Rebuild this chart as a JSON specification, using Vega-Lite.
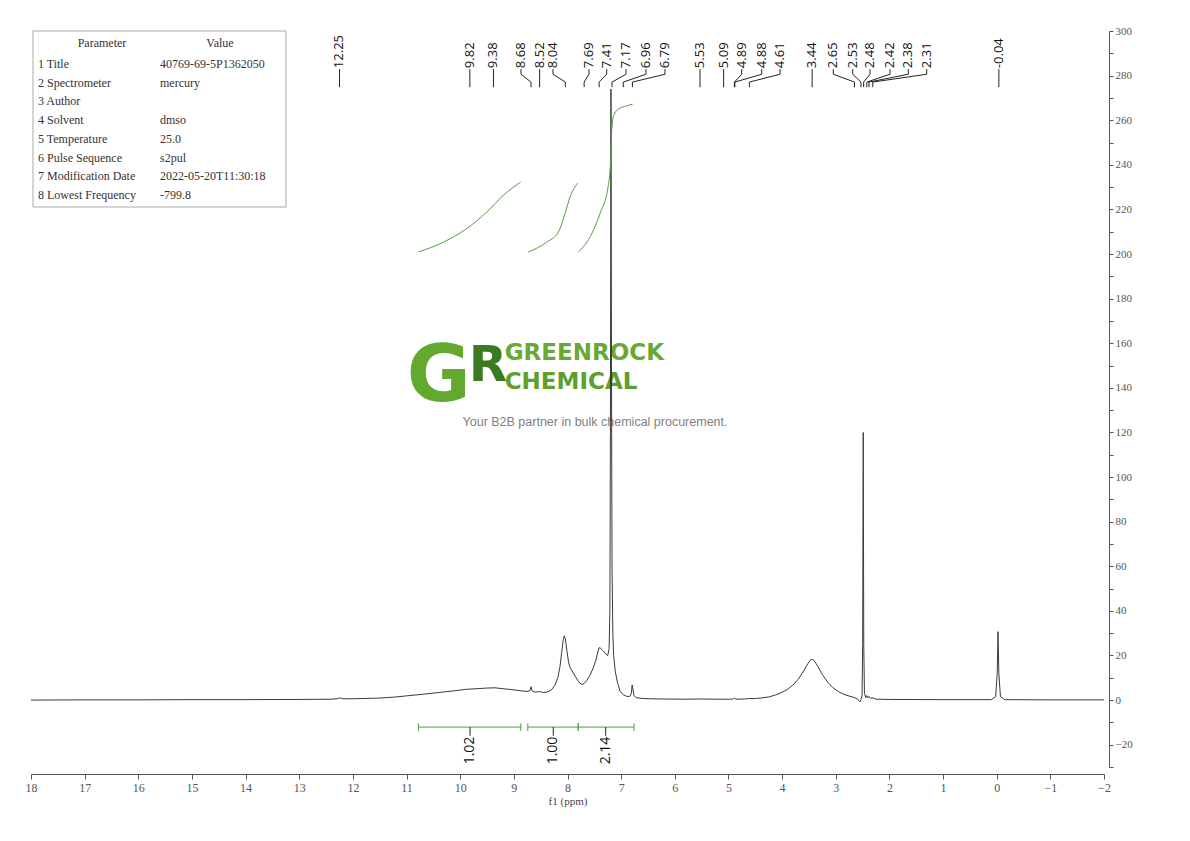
{
  "$schema": "https://vega.github.io/schema/vega-lite/v6.json",
  "width": 1073,
  "height": 736,
  "autosize": {"type": "none"},
  "padding": {"left": 31, "top": 31, "right": 86, "bottom": 74},
  "background": "white",
  "config": {"view": {"stroke": null}, "axis": {"grid": false}},
  "datasets": {
    "spectrum": [
      {"ppm": 18, "intensity": 0.0}, {"ppm": 17, "intensity": 0.1}, {"ppm": 16, "intensity": 0.1},
      {"ppm": 15, "intensity": 0.2}, {"ppm": 14, "intensity": 0.2}, {"ppm": 13, "intensity": 0.3},
      {"ppm": 12.4, "intensity": 0.4}, {"ppm": 12.3, "intensity": 0.6}, {"ppm": 12.25, "intensity": 1.0},
      {"ppm": 12.2, "intensity": 0.6}, {"ppm": 12.0, "intensity": 0.6}, {"ppm": 11.5, "intensity": 0.9},
      {"ppm": 11.2, "intensity": 1.4}, {"ppm": 11.0, "intensity": 1.9}, {"ppm": 10.7, "intensity": 2.6},
      {"ppm": 10.4, "intensity": 3.4}, {"ppm": 10.1, "intensity": 4.2}, {"ppm": 9.9, "intensity": 4.8},
      {"ppm": 9.7, "intensity": 5.1}, {"ppm": 9.5, "intensity": 5.4}, {"ppm": 9.35, "intensity": 5.5},
      {"ppm": 9.2, "intensity": 5.1}, {"ppm": 9.0, "intensity": 4.6}, {"ppm": 8.85, "intensity": 4.1},
      {"ppm": 8.74, "intensity": 3.9}, {"ppm": 8.7, "intensity": 4.3}, {"ppm": 8.68, "intensity": 6.0},
      {"ppm": 8.66, "intensity": 4.1}, {"ppm": 8.6, "intensity": 3.6}, {"ppm": 8.52, "intensity": 3.8},
      {"ppm": 8.45, "intensity": 3.4}, {"ppm": 8.38, "intensity": 3.6}, {"ppm": 8.3, "intensity": 4.6},
      {"ppm": 8.24, "intensity": 6.5}, {"ppm": 8.18, "intensity": 10}, {"ppm": 8.14, "intensity": 15},
      {"ppm": 8.11, "intensity": 21}, {"ppm": 8.08, "intensity": 27}, {"ppm": 8.06, "intensity": 28.8},
      {"ppm": 8.04, "intensity": 27.5}, {"ppm": 8.01, "intensity": 22}, {"ppm": 7.98, "intensity": 17},
      {"ppm": 7.95, "intensity": 14.5}, {"ppm": 7.9, "intensity": 12.5}, {"ppm": 7.84, "intensity": 10},
      {"ppm": 7.78, "intensity": 7.8}, {"ppm": 7.73, "intensity": 7.0}, {"ppm": 7.69, "intensity": 7.4},
      {"ppm": 7.64, "intensity": 8.8}, {"ppm": 7.58, "intensity": 11.2}, {"ppm": 7.52, "intensity": 14.5},
      {"ppm": 7.47, "intensity": 18}, {"ppm": 7.43, "intensity": 22}, {"ppm": 7.41, "intensity": 23.5},
      {"ppm": 7.38, "intensity": 23.2}, {"ppm": 7.33, "intensity": 22}, {"ppm": 7.28, "intensity": 20.5},
      {"ppm": 7.25, "intensity": 20}, {"ppm": 7.225, "intensity": 23}, {"ppm": 7.21, "intensity": 40},
      {"ppm": 7.2, "intensity": 120}, {"ppm": 7.19, "intensity": 274}, {"ppm": 7.18, "intensity": 150},
      {"ppm": 7.17, "intensity": 60}, {"ppm": 7.155, "intensity": 30}, {"ppm": 7.14, "intensity": 20},
      {"ppm": 7.11, "intensity": 13}, {"ppm": 7.07, "intensity": 8}, {"ppm": 7.02, "intensity": 4},
      {"ppm": 6.96, "intensity": 2.4}, {"ppm": 6.9, "intensity": 1.7}, {"ppm": 6.84, "intensity": 1.6},
      {"ppm": 6.81, "intensity": 3}, {"ppm": 6.795, "intensity": 6.8}, {"ppm": 6.78, "intensity": 5},
      {"ppm": 6.76, "intensity": 2.0}, {"ppm": 6.72, "intensity": 1.1}, {"ppm": 6.6, "intensity": 0.7},
      {"ppm": 6.3, "intensity": 0.5}, {"ppm": 5.8, "intensity": 0.4}, {"ppm": 5.53, "intensity": 0.5},
      {"ppm": 5.2, "intensity": 0.4}, {"ppm": 4.92, "intensity": 0.4}, {"ppm": 4.89, "intensity": 0.9},
      {"ppm": 4.86, "intensity": 0.4}, {"ppm": 4.7, "intensity": 0.5}, {"ppm": 4.61, "intensity": 0.7},
      {"ppm": 4.5, "intensity": 0.7}, {"ppm": 4.4, "intensity": 0.9}, {"ppm": 4.25, "intensity": 1.4},
      {"ppm": 4.12, "intensity": 2.3}, {"ppm": 4.0, "intensity": 3.5}, {"ppm": 3.9, "intensity": 4.8},
      {"ppm": 3.8, "intensity": 6.7}, {"ppm": 3.7, "intensity": 9.3}, {"ppm": 3.6, "intensity": 13.0},
      {"ppm": 3.52, "intensity": 16.3}, {"ppm": 3.47, "intensity": 18}, {"ppm": 3.44, "intensity": 18.3},
      {"ppm": 3.4, "intensity": 17.6}, {"ppm": 3.33, "intensity": 15}, {"ppm": 3.25, "intensity": 11.5},
      {"ppm": 3.15, "intensity": 8.0}, {"ppm": 3.05, "intensity": 5.5}, {"ppm": 2.95, "intensity": 3.8},
      {"ppm": 2.85, "intensity": 2.6}, {"ppm": 2.75, "intensity": 1.8}, {"ppm": 2.66, "intensity": 1.2},
      {"ppm": 2.6, "intensity": 0.6}, {"ppm": 2.57, "intensity": -0.3}, {"ppm": 2.55, "intensity": -0.8},
      {"ppm": 2.53, "intensity": 0.3}, {"ppm": 2.51, "intensity": 2}, {"ppm": 2.498, "intensity": 25},
      {"ppm": 2.488, "intensity": 120}, {"ppm": 2.478, "intensity": 25}, {"ppm": 2.465, "intensity": 3},
      {"ppm": 2.44, "intensity": 1.2}, {"ppm": 2.42, "intensity": 2.0}, {"ppm": 2.4, "intensity": 1.0},
      {"ppm": 2.38, "intensity": 1.6}, {"ppm": 2.35, "intensity": 0.8}, {"ppm": 2.31, "intensity": 1.0},
      {"ppm": 2.25, "intensity": 0.4}, {"ppm": 2.0, "intensity": 0.3}, {"ppm": 1.0, "intensity": 0.2},
      {"ppm": 0.1, "intensity": 0.2}, {"ppm": 0.02, "intensity": 1.5}, {"ppm": -0.01, "intensity": 12},
      {"ppm": -0.025, "intensity": 30.7}, {"ppm": -0.04, "intensity": 12}, {"ppm": -0.07, "intensity": 1.5},
      {"ppm": -0.15, "intensity": 0.2}, {"ppm": -1, "intensity": 0.1}, {"ppm": -2, "intensity": 0.1}
    ],
    "integralCurves": [
      {"id": 1, "ppm": 10.78, "level": 200.9}, {"id": 1, "ppm": 10.315, "level": 205.3},
      {"id": 1, "ppm": 9.879, "level": 211.4}, {"id": 1, "ppm": 9.506, "level": 218.8},
      {"id": 1, "ppm": 9.197, "level": 226.3}, {"id": 1, "ppm": 8.872, "level": 232.3},
      {"id": 2, "ppm": 8.731, "level": 200.9}, {"id": 2, "ppm": 8.388, "level": 205.3},
      {"id": 2, "ppm": 8.171, "level": 209.8}, {"id": 2, "ppm": 8.047, "level": 218.1},
      {"id": 2, "ppm": 7.953, "level": 225.6}, {"id": 2, "ppm": 7.81, "level": 231.8},
      {"id": 3, "ppm": 7.799, "level": 200.9}, {"id": 3, "ppm": 7.581, "level": 207.6},
      {"id": 3, "ppm": 7.395, "level": 218.1}, {"id": 3, "ppm": 7.24, "level": 230.8},
      {"id": 3, "ppm": 7.2, "level": 240}, {"id": 3, "ppm": 7.18, "level": 254},
      {"id": 3, "ppm": 7.14, "level": 262}, {"id": 3, "ppm": 7.05, "level": 265},
      {"id": 3, "ppm": 6.9, "level": 266.4}, {"id": 3, "ppm": 6.785, "level": 267.2}
    ],
    "integrals": [
      {"from": 10.78, "to": 8.87, "at": 9.817, "value": "1.02"},
      {"from": 8.74, "to": 7.8, "at": 8.265, "value": "1.00"},
      {"from": 7.8, "to": 6.76, "at": 7.288, "value": "2.14"}
    ],
    "peaks": [
      {"shift": 12.25, "lx": 12.25, "label": "12.25"},
      {"shift": 9.82, "lx": 9.82, "label": "9.82"},
      {"shift": 9.38, "lx": 9.38, "label": "9.38"},
      {"shift": 8.68, "lx": 8.867, "label": "8.68"},
      {"shift": 8.52, "lx": 8.52, "label": "8.52"},
      {"shift": 8.04, "lx": 8.27, "label": "8.04"},
      {"shift": 7.69, "lx": 7.599, "label": "7.69"},
      {"shift": 7.41, "lx": 7.269, "label": "7.41"},
      {"shift": 7.17, "lx": 6.91, "label": "7.17"},
      {"shift": 6.96, "lx": 6.537, "label": "6.96"},
      {"shift": 6.79, "lx": 6.183, "label": "6.79"},
      {"shift": 5.53, "lx": 5.53, "label": "5.53"},
      {"shift": 5.09, "lx": 5.09, "label": "5.09"},
      {"shift": 4.89, "lx": 4.753, "label": "4.89"},
      {"shift": 4.88, "lx": 4.38, "label": "4.88"},
      {"shift": 4.61, "lx": 4.039, "label": "4.61"},
      {"shift": 3.44, "lx": 3.44, "label": "3.44"},
      {"shift": 2.65, "lx": 3.046, "label": "2.65"},
      {"shift": 2.53, "lx": 2.684, "label": "2.53"},
      {"shift": 2.48, "lx": 2.362, "label": "2.48"},
      {"shift": 2.42, "lx": 1.989, "label": "2.42"},
      {"shift": 2.38, "lx": 1.648, "label": "2.38"},
      {"shift": 2.31, "lx": 1.305, "label": "2.31"},
      {"shift": -0.04, "lx": -0.04, "label": "-0.04"}
    ],
    "params": [
      {"row": 1, "parameter": "1 Title", "value": "40769-69-5P1362050"},
      {"row": 2, "parameter": "2 Spectrometer", "value": "mercury"},
      {"row": 3, "parameter": "3 Author", "value": ""},
      {"row": 4, "parameter": "4 Solvent", "value": "dmso"},
      {"row": 5, "parameter": "5 Temperature", "value": "25.0"},
      {"row": 6, "parameter": "6 Pulse Sequence", "value": "s2pul"},
      {"row": 7, "parameter": "7 Modification Date", "value": "2022-05-20T11:30:18"},
      {"row": 8, "parameter": "8 Lowest Frequency", "value": "-799.8"}
    ],
    "one": [{}]
  },
  "layer": [
    {
      "layer": [
        {
          "data": {"name": "one"},
          "mark": {"type": "text", "text": "G", "font": "DejaVu Sans", "fontWeight": "bold", "fontSize": 78, "color": "#63a92e", "align": "center", "baseline": "alphabetic"},
          "encoding": {
            "x": {"datum": 10.4, "type": "quantitative"},
            "y": {"datum": 134.3, "type": "quantitative"}
          }
        },
        {
          "data": {"name": "one"},
          "mark": {"type": "text", "text": "R", "font": "DejaVu Sans", "fontWeight": "bold", "fontSize": 50, "color": "#3a7b22", "align": "left", "baseline": "alphabetic"},
          "encoding": {
            "x": {"datum": 9.84, "type": "quantitative"},
            "y": {"datum": 143.2, "type": "quantitative"}
          }
        },
        {
          "data": {"name": "one"},
          "mark": {"type": "text", "text": "GREENROCK", "font": "DejaVu Sans", "fontWeight": "bold", "fontSize": 23, "color": "#68a833", "align": "left", "baseline": "alphabetic"},
          "encoding": {
            "x": {"datum": 9.17, "type": "quantitative"},
            "y": {"datum": 152.6, "type": "quantitative"}
          }
        },
        {
          "data": {"name": "one"},
          "mark": {"type": "text", "text": "CHEMICAL", "font": "DejaVu Sans", "fontWeight": "bold", "fontSize": 23, "color": "#5ea02b", "align": "left", "baseline": "alphabetic"},
          "encoding": {
            "x": {"datum": 9.17, "type": "quantitative"},
            "y": {"datum": 139.5, "type": "quantitative"}
          }
        },
        {
          "data": {"name": "one"},
          "mark": {"type": "text", "text": "Your B2B partner in bulk chemical procurement.", "font": "Liberation Sans", "fontSize": 12.5, "color": "#7f7f7f", "align": "center", "baseline": "middle"},
          "encoding": {
            "x": {"datum": 7.487, "type": "quantitative"},
            "y": {"datum": 124.8, "type": "quantitative"}
          }
        },
        {
          "data": {"name": "spectrum"},
          "mark": {"type": "line", "color": "#3a3a3a", "strokeWidth": 1},
          "encoding": {
            "x": {
              "field": "ppm", "type": "quantitative",
              "scale": {"domain": [-2, 18], "reverse": true, "nice": false, "zero": false},
              "axis": {
                "title": "f1 (ppm)", "titleFont": "Liberation Serif", "titleFontSize": 11, "titleFontWeight": "normal", "titleColor": "#444", "titlePadding": 2,
                "offset": 7, "values": [-2, -1.5, -1, -0.5, 0, 0.5, 1, 1.5, 2, 2.5, 3, 3.5, 4, 4.5, 5, 5.5, 6, 6.5, 7, 7.5, 8, 8.5, 9, 9.5, 10, 10.5, 11, 11.5, 12, 12.5, 13, 13.5, 14, 14.5, 15, 15.5, 16, 16.5, 17, 17.5, 18],
                "labelExpr": "datum.value % 1 === 0 ? datum.label : ''",
                "labelFont": "Liberation Serif", "labelFontSize": 12, "labelColor": "#555", "labelOverlap": false, "labelFlush": false, "labelPadding": 3,
                "tickSize": 5, "tickColor": "#555", "domainColor": "#555"
              }
            },
            "y": {
              "field": "intensity", "type": "quantitative",
              "scale": {"domain": [-30, 300], "nice": false, "zero": false},
              "axis": {
                "title": null, "orient": "right", "offset": 5,
                "values": [-20, 0, 20, 40, 60, 80, 100, 120, 140, 160, 180, 200, 220, 240, 260, 280, 300],
                "labelFont": "Liberation Serif", "labelFontSize": 11, "labelColor": "#555", "labelOverlap": false, "labelFlush": false, "labelPadding": 2,
                "tickSize": 4, "tickColor": "#555", "domainColor": "#555"
              }
            }
          }
        },
        {
          "data": {"name": "integralCurves"},
          "mark": {"type": "line", "color": "#4f9e3e", "strokeWidth": 1, "interpolate": "monotone"},
          "encoding": {
            "x": {"field": "ppm", "type": "quantitative"},
            "y": {"field": "level", "type": "quantitative"},
            "detail": {"field": "id"}
          }
        },
        {
          "data": {"name": "integrals"},
          "mark": {"type": "rule", "color": "#4f9e3e", "strokeWidth": 1},
          "encoding": {
            "x": {"field": "from", "type": "quantitative"},
            "x2": {"field": "to"},
            "y": {"datum": -12.1, "type": "quantitative"}
          }
        },
        {
          "data": {"name": "integrals"},
          "mark": {"type": "rule", "color": "#4f9e3e", "strokeWidth": 1},
          "encoding": {
            "x": {"field": "from", "type": "quantitative"},
            "y": {"datum": -10.4, "type": "quantitative"},
            "y2": {"datum": -13.8}
          }
        },
        {
          "data": {"name": "integrals"},
          "mark": {"type": "rule", "color": "#4f9e3e", "strokeWidth": 1},
          "encoding": {
            "x": {"field": "to", "type": "quantitative"},
            "y": {"datum": -10.4, "type": "quantitative"},
            "y2": {"datum": -13.8}
          }
        },
        {
          "data": {"name": "integrals"},
          "mark": {"type": "rule", "color": "#222", "strokeWidth": 1},
          "encoding": {
            "x": {"field": "at", "type": "quantitative"},
            "y": {"datum": -12.1, "type": "quantitative"},
            "y2": {"datum": -16.0}
          }
        },
        {
          "data": {"name": "integrals"},
          "mark": {"type": "text", "angle": 270, "align": "right", "baseline": "middle", "font": "Open Sans", "fontSize": 14, "color": "#111"},
          "encoding": {
            "x": {"field": "at", "type": "quantitative"},
            "y": {"datum": -16.4, "type": "quantitative"},
            "text": {"field": "value"}
          }
        },
        {
          "data": {"name": "peaks"},
          "mark": {"type": "rule", "color": "#222", "strokeWidth": 1},
          "encoding": {
            "x": {"field": "lx", "type": "quantitative"},
            "y": {"datum": 282.9, "type": "quantitative"},
            "y2": {"datum": 280.6}
          }
        },
        {
          "data": {"name": "peaks"},
          "mark": {"type": "rule", "color": "#222", "strokeWidth": 1},
          "encoding": {
            "x": {"field": "lx", "type": "quantitative"},
            "x2": {"field": "shift"},
            "y": {"datum": 280.6, "type": "quantitative"},
            "y2": {"datum": 277.1}
          }
        },
        {
          "data": {"name": "peaks"},
          "mark": {"type": "rule", "color": "#222", "strokeWidth": 1},
          "encoding": {
            "x": {"field": "shift", "type": "quantitative"},
            "y": {"datum": 277.1, "type": "quantitative"},
            "y2": {"datum": 274.8}
          }
        },
        {
          "data": {"name": "peaks"},
          "mark": {"type": "text", "angle": 270, "align": "left", "baseline": "middle", "font": "Open Sans", "fontSize": 13, "color": "#111", "dx": 1},
          "encoding": {
            "x": {"field": "lx", "type": "quantitative"},
            "y": {"datum": 282.9, "type": "quantitative"},
            "text": {"field": "label"}
          }
        }
      ]
    },
    {
      "layer": [
        {
          "data": {"name": "one"},
          "mark": {"type": "rect", "fill": "transparent", "stroke": "#aaaaaa", "strokeWidth": 1},
          "encoding": {
            "x": {"datum": 17.963, "type": "quantitative"},
            "x2": {"datum": 13.247},
            "y": {"datum": -0.764, "type": "quantitative", "axis": null, "scale": {"domain": [-0.764, 38.565], "reverse": true, "nice": false, "zero": false}},
            "y2": {"datum": 8.641}
          }
        },
        {
          "data": {"name": "one"},
          "mark": {"type": "text", "text": "Parameter", "font": "Liberation Serif", "fontSize": 12, "color": "#333", "align": "center", "baseline": "middle"},
          "encoding": {
            "x": {"datum": 16.677, "type": "quantitative"},
            "y": {"datum": -0.1, "type": "quantitative", "axis": null}
          }
        },
        {
          "data": {"name": "one"},
          "mark": {"type": "text", "text": "Value", "font": "Liberation Serif", "fontSize": 12, "color": "#333", "align": "center", "baseline": "middle"},
          "encoding": {
            "x": {"datum": 14.477, "type": "quantitative"},
            "y": {"datum": -0.1, "type": "quantitative", "axis": null}
          }
        },
        {
          "data": {"name": "params"},
          "mark": {"type": "text", "font": "Liberation Serif", "fontSize": 12, "color": "#333", "align": "left", "baseline": "middle"},
          "encoding": {
            "x": {"datum": 17.87, "type": "quantitative"},
            "y": {"field": "row", "type": "quantitative", "axis": null},
            "text": {"field": "parameter"}
          }
        },
        {
          "data": {"name": "params"},
          "mark": {"type": "text", "font": "Liberation Serif", "fontSize": 12, "color": "#333", "align": "left", "baseline": "middle"},
          "encoding": {
            "x": {"datum": 15.595, "type": "quantitative"},
            "y": {"field": "row", "type": "quantitative", "axis": null},
            "text": {"field": "value"}
          }
        }
      ]
    },
    {
      "data": {"name": "one"},
      "mark": {"type": "text", "text": ""},
      "encoding": {
        "x": {"datum": 0, "type": "quantitative"},
        "y": {
          "datum": 0, "type": "quantitative",
          "scale": {"domain": [-30, 300], "nice": false, "zero": false},
          "axis": {
            "title": null, "orient": "right", "offset": 5, "labels": false, "domain": false,
            "values": [-30, -10, 10, 30, 50, 70, 90, 110, 130, 150, 170, 190, 210, 230, 250, 270, 290],
            "tickSize": 4, "tickColor": "#555"
          }
        }
      }
    }
  ],
  "resolve": {"scale": {"y": "independent"}}
}
